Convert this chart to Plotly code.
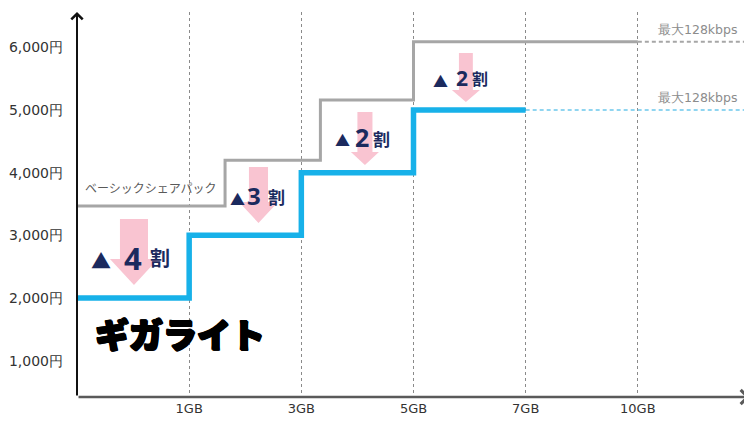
import plotly.graph_objects as go

# ---- data ----
x_tick_labels = ["1GB", "3GB", "5GB", "7GB", "10GB"]
x_tick_pos = [1, 2, 3, 4, 5]
y_tick_vals = [1000, 2000, 3000, 4000, 5000, 6000]
y_tick_text = ["1,000円", "2,000円", "3,000円", "4,000円", "5,000円", "6,000円"]

giga_x = [0, 1, 2, 3, 4]
giga_y = [2000, 3000, 4000, 5000, 5000]
basic_x = [0, 1.32, 2.17, 3, 5]
basic_y = [3470, 4200, 5160, 6090, 6090]
throttle_end = 5.96
throttle_label = "最大128kbps"

# reduction arrows: centre x, top, head start, tip, shaft half width, head half width
red_labels = ["4", "3", "2", "2"]
red_cx = [0.508, 1.618, 2.567, 3.467]
red_top = [3261, 4090, 4968, 5909]
red_head = [2622, 3532, 4330, 5319]
red_tip = [2207, 3197, 4122, 5127]
red_shaft = [0.125, 0.085, 0.067, 0.062]
red_wing = [0.214, 0.174, 0.125, 0.125]
# label positions (triangle, digit, kanji)
tri_pos = [(0.214, 2591), (1.431, 3580), (2.367, 4522), (3.245, 5469)]
dig_pos = [(0.495, 2646), (1.578, 3636), (2.545, 4562), (3.428, 5517)]
kan_pos = [(0.740, 2646), (1.778, 3620), (2.714, 4546), (3.593, 5508)]
tri_size = [20, 15, 15, 15]
dig_size = [31, 24, 25, 21]
kan_size = [20, 17, 17, 16]

Y0, Y1 = 420, 6564
X0, X1 = 0, 6.0

BLUE = "#17b1e9"
GRAY = "#a6a6a6"
NAVY = "#1b2a5e"
PINK = "#f9c4d1"
JP = "Noto Sans CJK JP"

fig = go.Figure()

fig.add_trace(go.Scatter(x=basic_x, y=basic_y, mode="lines", line_shape="hv",
                         line=dict(color=GRAY, width=3), hoverinfo="skip", showlegend=False))
fig.add_trace(go.Scatter(x=[basic_x[-1], throttle_end], y=[basic_y[-1]] * 2, mode="lines",
                         line=dict(color=GRAY, width=2, dash="4px,3px"), hoverinfo="skip", showlegend=False))
fig.add_trace(go.Scatter(x=[giga_x[-1], throttle_end], y=[giga_y[-1]] * 2, mode="lines",
                         line=dict(color="#6cc8ec", width=1.5, dash="4px,3px"), hoverinfo="skip", showlegend=False))
fig.add_trace(go.Scatter(x=giga_x, y=giga_y, mode="lines", line_shape="hv",
                         line=dict(color=BLUE, width=5.5), hoverinfo="skip", showlegend=False))

shapes = []
for cx, t, h, tp, s, w in zip(red_cx, red_top, red_head, red_tip, red_shaft, red_wing):
    path = (f"M{cx - s},{t} L{cx + s},{t} L{cx + s},{h} L{cx + w},{h} "
            f"L{cx},{tp} L{cx - w},{h} L{cx - s},{h} Z")
    shapes.append(dict(type="path", path=path, xref="x", yref="y",
                       fillcolor=PINK, line=dict(width=0), layer="below"))

ann = []
# axis arrows
ann.append(dict(x=0, y=Y1, ax=0, ay=Y0, xref="x", yref="y", axref="x", ayref="y",
                text="", showarrow=True, arrowhead=4, arrowsize=1.1, arrowwidth=2,
                arrowcolor="#111111"))
ann.append(dict(x=X1, y=Y0, ax=0, ay=Y0, xref="x", yref="y", axref="x", ayref="y",
                text="", showarrow=True, arrowhead=4, arrowsize=1.1, arrowwidth=2.5,
                arrowcolor="#5a5a5a"))

for i in range(len(red_labels)):
    ann.append(dict(x=tri_pos[i][0], y=tri_pos[i][1], text="▲", showarrow=False,
                    font=dict(family=JP, size=tri_size[i], color=NAVY)))
    ann.append(dict(x=dig_pos[i][0], y=dig_pos[i][1], text=red_labels[i], showarrow=False,
                    font=dict(family="Open Sans", size=dig_size[i], color=NAVY, weight=700)))
    ann.append(dict(x=kan_pos[i][0], y=kan_pos[i][1], text="割", showarrow=False,
                    font=dict(family=JP, size=kan_size[i], color=NAVY, weight=700)))

ann.append(dict(x=0.664, y=3756, text="ベーシックシェアパック", showarrow=False,
                font=dict(family=JP, size=12, color="#595959")))
ann.append(dict(x=0.914, y=1441, text="ギガライト", showarrow=False,
                font=dict(family=JP, size=34, color="#000000", weight=900,
                          shadow="1px 0 0 #000, -1px 0 0 #000, 0 1px 0 #000, 0 -1px 0 #000, 1px 1px 0 #000, -1px -1px 0 #000")))
for yv in [6277, 5192]:
    ann.append(dict(x=5.90, y=yv, text=throttle_label, showarrow=False, xanchor="right",
                    font=dict(family="DejaVu Sans", size=12.5, color="#8c8c8c")))

# page body has an 8px default margin; compensate
fig.update_layout(
    width=744, height=409,
    margin=dict(l=69, r=2, t=4, b=20, autoexpand=False),
    paper_bgcolor="white", plot_bgcolor="white",
    shapes=shapes, annotations=ann,
    xaxis=dict(range=[X0, X1], tickvals=x_tick_pos, ticktext=x_tick_labels,
               showgrid=True, gridcolor="#8a8a8a", griddash="3px,3px", gridwidth=1,
               zeroline=False, showline=False, ticks="", ticklabelstandoff=2, automargin=False,
               tickfont=dict(family="DejaVu Sans", size=13, color="#333333"), fixedrange=True),
    yaxis=dict(range=[Y0, Y1], tickvals=y_tick_vals, ticktext=y_tick_text,
               showgrid=False, zeroline=False, showline=False, ticks="", ticklabelstandoff=13,
               automargin=False,
               tickfont=dict(family="DejaVu Sans", size=14, color="#333333"), fixedrange=True),
)

fig.write_html("out.html")
